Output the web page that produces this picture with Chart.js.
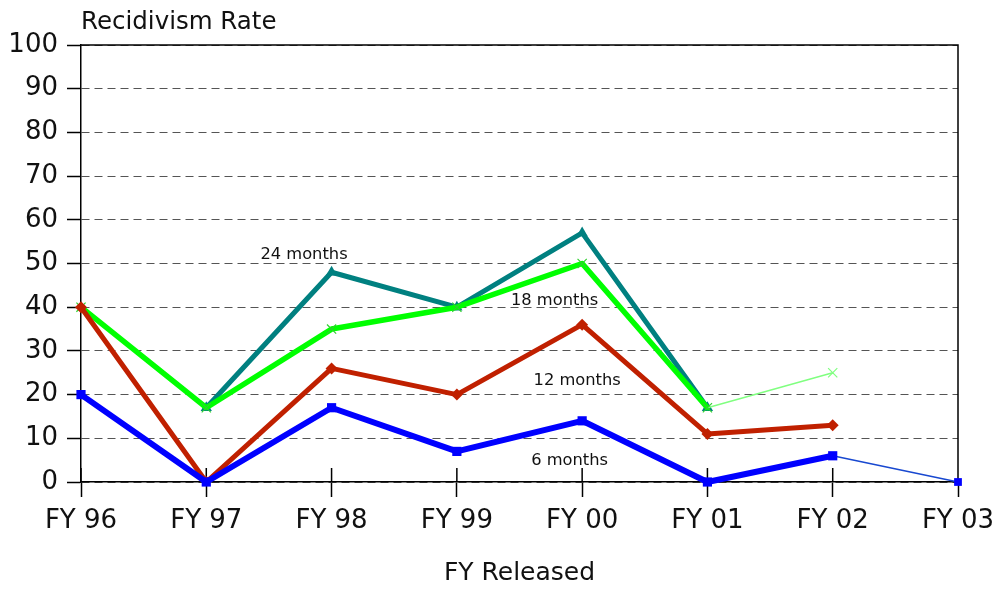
<!DOCTYPE html>
<html>
<head>
<meta charset="utf-8">
<script src="https://cdn.jsdelivr.net/npm/chart.js@4"></script>
<style>
  body { margin: 0; background: #fff; }
  #wrap { width: 995px; height: 589px; position: relative; }
</style>
</head>
<body>
<div id="wrap"><canvas id="recidivismChart"></canvas></div>
<script>
// Dane z wykresu
const years = ['FY 96', 'FY 97', 'FY 98', 'FY 99', 'FY 00', 'FY 01', 'FY 02', 'FY 03'];
const sixMonths = [20, 0, 17, 7, 14, 0, 6, 0];
const twelveMonths = [40, 0, 26, 20, 36, 11, 13, null];
const eighteenMonths = [40, 17, 35, 40, 50, 17, 25, null];
const twentyFourMonths = [null, 17, 48, 40, 57, 17, null, null];

// Etykiety serii (pozycja w jednostkach osi: indeks kategorii, wartość)
const seriesLabels = ['24 months', '18 months', '12 months', '6 months'];
const labelIndex = [1.78, 3.78, 3.96, 3.90];
const labelValue = [52, 41.4, 23.1, 4.8];

const FONT = 'DejaVu Sans';

// Rysuje ramkę, tytuł osi Y i etykiety serii
const extrasPlugin = {
    id: 'extras',
    beforeDatasetsDraw(chart) {
        const { ctx, chartArea, scales } = chart;
        ctx.save();
        ctx.strokeStyle = '#000';
        ctx.lineWidth = 1.5;
        ctx.beginPath();
        ctx.moveTo(chartArea.left, chartArea.top);
        ctx.lineTo(chartArea.right, chartArea.top);
        ctx.lineTo(chartArea.right, chartArea.bottom);
        // krótkie kreski osi X nad osią
        for (let i = 0; i < scales.x.ticks.length; i++) {
            const px = scales.x.getPixelForTick(i);
            ctx.moveTo(px, chartArea.bottom - 14);
            ctx.lineTo(px, chartArea.bottom);
        }
        ctx.stroke();
        ctx.restore();
    },
    afterDatasetsDraw(chart) {
        const { ctx, chartArea, scales } = chart;
        ctx.save();
        ctx.fillStyle = '#111';
        ctx.font = '24.5px "' + FONT + '"';
        ctx.textAlign = 'left';
        ctx.textBaseline = 'middle';
        ctx.fillText('Recidivism Rate', chartArea.left, 23);

        ctx.font = '16.3px "' + FONT + '"';
        ctx.textAlign = 'center';
        seriesLabels.forEach((txt, i) => {
            ctx.fillText(txt, scales.x.getPixelForValue(labelIndex[i]), scales.y.getPixelForValue(labelValue[i]));
        });
        ctx.restore();
    }
};

const ctx = document.getElementById('recidivismChart').getContext('2d');
new Chart(ctx, {
    type: 'line',
    data: {
        labels: years,
        datasets: [
            {
                label: '6 months',
                data: sixMonths,
                borderColor: '#0000ff',
                backgroundColor: '#0000ff',
                borderWidth: 6,
                clip: false,
                pointStyle: 'rect',
                pointRadius: [6.5, 6.5, 6.5, 6.5, 6.5, 6.5, 6.5, 5.5],
                pointBackgroundColor: '#0000ff',
                pointBorderColor: '#0000ff',
                pointBorderWidth: 0,
                segment: {
                    borderWidth: c => c.p0DataIndex === 6 ? 1.5 : 6,
                    borderColor: c => c.p0DataIndex === 6 ? '#1848d0' : '#0000ff'
                }
            },
            {
                label: '12 months',
                data: twelveMonths,
                borderColor: '#c02000',
                backgroundColor: '#c02000',
                borderWidth: 5,
                pointStyle: 'rectRot',
                pointRadius: 6,
                pointBackgroundColor: '#c02000',
                pointBorderColor: '#c02000',
                pointBorderWidth: 0
            },
            {
                label: '18 months',
                data: eighteenMonths,
                borderColor: '#00ff00',
                backgroundColor: '#00ff00',
                borderWidth: 5.5,
                pointStyle: 'crossRot',
                pointRadius: 6.5,
                pointBorderColor: ['#30d030', '#30d030', '#30d030', '#30d030', '#30d030', '#30d030', '#80ff80', '#80ff80'],
                pointBorderWidth: 1.2,
                segment: {
                    borderWidth: c => c.p0DataIndex === 5 ? 1.5 : 5.5,
                    borderColor: c => c.p0DataIndex === 5 ? '#80ff80' : '#00ff00'
                }
            },
            {
                label: '24 months',
                data: twentyFourMonths,
                borderColor: '#008080',
                backgroundColor: '#008080',
                borderWidth: 5,
                pointStyle: 'triangle',
                pointRadius: 6.5,
                pointBackgroundColor: '#008080',
                pointBorderColor: '#008080',
                pointBorderWidth: 0
            }
        ]
    },
    options: {
        responsive: true,
        maintainAspectRatio: false,
        animation: false,
        layout: { padding: { top: 45, right: 0, left: 0, bottom: 0 } },
        elements: {
            line: { tension: 0, borderJoinStyle: 'round', borderCapStyle: 'round' }
        },
        plugins: {
            legend: { display: false },
            tooltip: { enabled: false }
        },
        scales: {
            x: {
                offset: false,
                grid: {
                    drawOnChartArea: false,
                    drawTicks: true,
                    tickLength: 15,
                    tickColor: '#000',
                    tickWidth: 1.5
                },
                border: { display: true, color: '#000', width: 1.5 },
                ticks: {
                    color: '#111',
                    font: { family: FONT, size: 26 },
                    padding: 9,
                    maxRotation: 0,
                    autoSkip: false
                },
                title: {
                    display: true,
                    text: 'FY Released',
                    color: '#111',
                    font: { family: FONT, size: 25 },
                    padding: { top: 0, bottom: 1 }
                },
                afterFit: scale => {
                    scale.height = 107;
                    scale.paddingLeft = 0;
                    scale.paddingRight = 37;
                }
            },
            y: {
                min: 0,
                max: 100,
                grid: {
                    color: '#555',
                    lineWidth: 1,
                    tickLength: 14,
                    tickColor: '#000',
                    tickWidth: 1.5,
                    tickBorderDash: []
                },
                border: { display: true, color: '#000', width: 1.5, dash: [8, 5] },
                ticks: {
                    stepSize: 10,
                    color: '#111',
                    font: { family: FONT, size: 26 },
                    padding: 9
                },
                afterFit: scale => { scale.width = 81; }
            }
        }
    },
    plugins: [extrasPlugin]
});
</script>
</body>
</html>
